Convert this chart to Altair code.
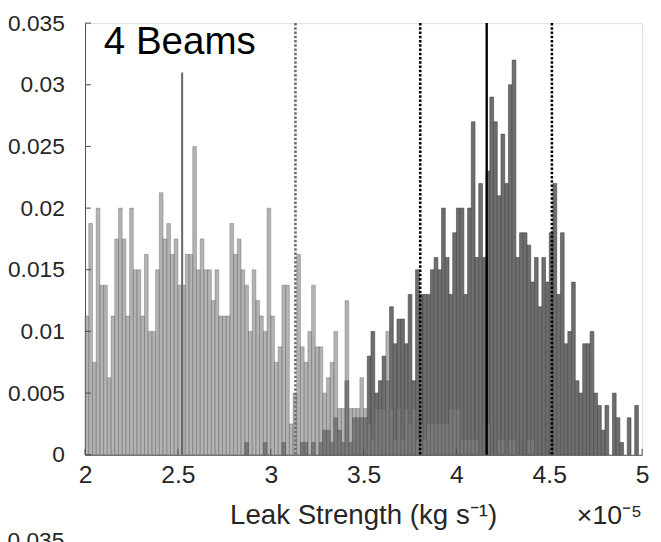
import altair as alt
import pandas as pd
import numpy as np

# ---------------- data ----------------
BIN_START = 2.0
BIN_WIDTH = 0.02
N_BINS = 150

# light-grey histogram, counts per bin (probability = count / 800)
light_counts = [
    9, 15, 6, 16, 11, 11, 5, 9, 14, 16,
    14, 9, 16, 12, 12, 9, 13, 8, 8, 12,
    17, 14, 15, 13, 14, 11, 11, 13, 13, 20,
    12, 14, 12, 12, 10, 12, 9, 9, 9, 15,
    13, 14, 12, 11, 8, 12, 10, 9, 8, 16,
    9, 6, 7, 11, 11, 2, 4, 13, 7, 6,
    8, 11, 7, 7, 4, 5, 6, 8, 3, 3,
    10, 3, 3, 3, 5, 3, 2, 1, 3, 3,
    3, 8, 3, 1, 3, 1, 3, 2, 3, 1,
    2, 1, 2, 2, 2, 2, 2, 2, 3, 3,
    3, 1, 1, 1, 1, 1, 0, 0, 2, 0,
    0, 1, 1, 0, 1, 1, 0, 0, 0, 1,
    1, 0, 0, 0, 0, 0, 0, 0, 0, 0,
    0, 0, 0, 0, 0, 0, 0, 0, 0, 0,
    0, 0, 0, 0, 0, 0, 0, 0, 0, 0,
]
N_LIGHT = 800

# dark-grey histogram, counts per bin (probability = count / 1000)
dark_counts = [
    0, 0, 0, 0, 0, 0, 0, 0, 0, 0,
    0, 0, 0, 0, 0, 0, 0, 0, 0, 0,
    0, 0, 0, 0, 0, 0, 0, 0, 0, 0,
    0, 0, 0, 0, 0, 0, 0, 0, 0, 0,
    0, 0, 0, 1, 0, 0, 0, 0, 1, 0,
    0, 0, 0, 1, 0, 0, 0, 0, 1, 1,
    0, 1, 0, 1, 2, 2, 1, 3, 2, 1,
    6, 1, 3, 3, 3, 3, 8, 10, 5, 6,
    8, 6, 12, 9, 11, 11, 9, 13, 6, 15,
    13, 13, 13, 15, 16, 15, 20, 16, 13, 18,
    20, 20, 13, 20, 27, 16, 22, 16, 23, 29,
    27, 21, 26, 22, 30, 32, 16, 18, 18, 17,
    14, 16, 12, 16, 14, 18, 22, 13, 18, 9,
    10, 14, 6, 5, 9, 9, 10, 5, 4, 2,
    4, 0, 5, 3, 1, 0, 3, 0, 4, 0,
]
N_DARK = 1000

# vertical reference lines
solid_grey_x = [2.523]
solid_grey_top = [0.031]
dotted_grey_x = [3.133]
dotted_black_x = [3.805, 4.514]
solid_black_x = [4.163]
LINE_TOP = 0.035

x_ticks = [2, 2.5, 3, 3.5, 4, 4.5, 5]
y_ticks = [0, 0.005, 0.01, 0.015, 0.02, 0.025, 0.03, 0.035]

title_text = "4 Beams"
xlabel_text = "Leak Strength (kg s\u207b\u00b9)"
mult_text = "\u00d710\u207b\u2075"
next_panel_label = "0.035"   # top label of the next panel, cut by the frame

# ---------------- tables ----------------
lo = [round(BIN_START + BIN_WIDTH * i, 4) for i in range(N_BINS)]
hi = [round(v + BIN_WIDTH, 4) for v in lo]
bins = pd.DataFrame({
    "lo": lo,
    "hi": hi,
    "light": np.array(light_counts) / N_LIGHT,
    "dark": np.array(dark_counts) / N_DARK,
})

FONT = "Liberation Sans"
TXT = "#262626"
W, H = 564, 437

xs = alt.Scale(domain=[2, 5], nice=False, zero=False)
ys = alt.Scale(domain=[0, 0.035], nice=False, zero=True)

x_axis = alt.Axis(values=x_ticks, format="~g", ticks=False,
                  domain=True, domainColor="#4d4d4d", domainWidth=1, grid=False,
                  labelFontSize=25, labelFont=FONT, labelColor=TXT, labelPadding=8,
                  labelFlush=False, title=None)
y_axis = alt.Axis(values=y_ticks,
                  labelExpr="datum.value == 0 ? '0' : format(datum.value, '.3~f')",
                  ticks=False, domain=True, domainColor="#4d4d4d", domainWidth=1,
                  grid=False, labelFontSize=23, labelFont=FONT, labelColor=TXT,
                  labelPadding=21, labelFlush=False, title=None)

XE = dict(scale=xs, axis=x_axis, title=None)
YE = dict(scale=ys, axis=y_axis, title=None)

base = alt.Chart(bins)

dark = base.transform_filter("datum.dark > 0").mark_rect(
    color="#6e6e6e", stroke="#454545", strokeWidth=0.6
).encode(
    x=alt.X("lo:Q", **XE),
    x2="hi:Q",
    y=alt.Y("dark:Q", **YE),
    y2=alt.datum(0),
)

light = base.transform_filter("datum.light > 0").mark_rect(
    color="#808080", fillOpacity=0.6, stroke="#5a5a5a", strokeOpacity=0.6, strokeWidth=0.6
).encode(
    x=alt.X("lo:Q", **XE),
    x2="hi:Q",
    y=alt.Y("light:Q", **YE),
    y2=alt.datum(0),
)

def vlines(xv, top, color, dash, width):
    d = pd.DataFrame({"x": xv, "top": top})
    mk = dict(color=color, strokeWidth=width)
    if dash:
        mk["strokeDash"] = dash
    return alt.Chart(d).mark_rule(**mk).encode(
        x=alt.X("x:Q", **XE),
        y=alt.Y("top:Q", **YE),
        y2=alt.datum(0),
    )

l1 = vlines(solid_grey_x, solid_grey_top, "#666666", None, 2)
l2 = vlines(dotted_grey_x, [LINE_TOP] * len(dotted_grey_x), "#6e6e6e", [2.5, 1.8], 2.6)
l3 = vlines(dotted_black_x, [LINE_TOP] * len(dotted_black_x), "#000000", [2.5, 1.8], 2.6)
l4 = vlines(solid_black_x, [LINE_TOP] * len(solid_black_x), "#000000", None, 2.4)

# inward ticks (MATLAB style)
yt = alt.Chart(pd.DataFrame({"v": y_ticks})).mark_rule(color="#4d4d4d", strokeWidth=1).encode(
    y=alt.Y("v:Q", **YE), x=alt.value(0), x2=alt.value(6))
xt = alt.Chart(pd.DataFrame({"v": x_ticks})).mark_rule(color="#4d4d4d", strokeWidth=1).encode(
    x=alt.X("v:Q", **XE), y=alt.value(H), y2=alt.value(H - 6))

title = alt.Chart(pd.DataFrame({"t": [title_text]})).mark_text(
    font=FONT, fontSize=39, color="#000000", align="left", baseline="alphabetic"
).encode(text="t:N", x=alt.value(19), y=alt.value(31))

xl = alt.Chart(pd.DataFrame({"t": [xlabel_text]})).mark_text(
    font=FONT, fontSize=28, color=TXT, align="center", baseline="alphabetic"
).encode(text="t:N", x=alt.value(W / 2), y=alt.value(507))

mult = alt.Chart(pd.DataFrame({"t": [mult_text]})).mark_text(
    font=FONT, fontSize=27, color=TXT, align="right", baseline="alphabetic"
).encode(text="t:N", x=alt.value(W), y=alt.value(507))

nxt = alt.Chart(pd.DataFrame({"t": [next_panel_label]})).mark_text(
    font=FONT, fontSize=23, color=TXT, align="right", baseline="alphabetic"
).encode(text="t:N", x=alt.value(-21), y=alt.value(531))

chart = alt.layer(dark, light, l1, l2, l3, l4, yt, xt, title, xl, mult, nxt).properties(
    width=W, height=H,
    autosize=alt.AutoSizeParams(type="none"),
    padding={"left": 78, "top": 12, "right": 11, "bottom": 85},
).configure_view(stroke=None).configure(background="white")

chart.save("out.html", embed_options={"renderer": "svg", "actions": False})
